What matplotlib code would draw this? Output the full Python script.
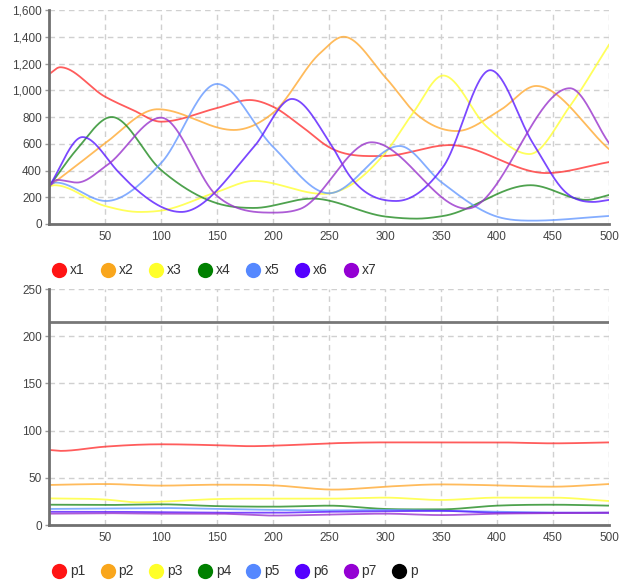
import numpy as np
import matplotlib
matplotlib.use("Agg")
import matplotlib.pyplot as plt
from matplotlib.lines import Line2D
from matplotlib.ticker import FuncFormatter

plt.rcParams['font.family'] = ['Liberation Sans', 'DejaVu Sans']

# ---------------- data (key points) ----------------
x1_x = [0, 10, 50, 75, 100, 150, 179, 200, 224, 251, 298, 358, 444, 500]
x1_y = [1120, 1172, 952, 852, 765, 867, 927, 877, 740, 570, 508, 590, 381, 463]

x2_x = [0, 25, 50, 97, 165, 200, 242, 263, 301, 329, 364, 403, 435, 500]
x2_y = [280, 440, 603, 858, 703, 830, 1277, 1400, 1090, 815, 695, 852, 1032, 560]

x3_x = [0, 5, 50, 81, 100, 150, 183, 245, 301, 325, 352, 391, 429, 465, 500]
x3_y = [280, 290, 135, 90, 100, 240, 322, 225, 540, 830, 1110, 725, 523, 880, 1340]

x4_x = [0, 25, 56, 100, 150, 183, 235, 301, 328, 352, 430, 480, 500]
x4_y = [280, 560, 800, 404, 155, 120, 190, 55, 40, 60, 290, 180, 217]

x5_x = [0, 6, 51, 100, 150, 200, 250, 313, 350, 400, 432, 500]
x5_y = [290, 310, 172, 455, 1047, 577, 230, 583, 315, 55, 25, 60]

x6_x = [0, 30, 63, 75, 118, 183, 217, 251, 269, 310, 352, 394, 432, 462, 486, 500]
x6_y = [280, 650, 380, 280, 90, 577, 935, 605, 353, 172, 428, 1150, 605, 232, 165, 180]

x7_x = [0, 7, 25, 52, 100, 150, 200, 224, 288, 373, 465, 500]
x7_y = [280, 330, 310, 441, 795, 210, 85, 112, 611, 115, 1015, 605]

p_x = [0, 50, 100, 150, 200, 250, 300, 350, 400, 450, 500]
p1_x = [0, 10, 50, 100, 150, 180, 200, 250, 300, 350, 400, 450, 500]
p1_y = [79.5, 78.5, 83, 85.5, 84.5, 83.5, 84, 86.5, 87.5, 87.5, 87.5, 86.5, 87.5]
p2_x = [0, 50, 100, 150, 200, 255, 300, 350, 400, 450, 500]
p2_y = [42.4, 43.4, 41.7, 42.7, 42, 37.5, 40.6, 43, 42, 40.6, 43.4]
p3_x = [0, 50, 80, 100, 150, 200, 250, 300, 350, 400, 450, 500]
p3_y = [28.2, 27, 24, 24.7, 27.5, 27.9, 27.9, 29, 26.5, 29, 29, 25.4]
p4_y = [21.5, 21.2, 21.9, 20, 19.4, 20.5, 17, 16.6, 20.5, 21.5, 20.5]
p5_y = [17, 17.5, 18, 17, 16, 15.5, 16, 15, 14, 13, 13]
p6_y = [14, 14, 13.5, 13, 13, 14, 14.5, 15, 13, 13, 13]
p7_y = [12, 12.5, 12, 12, 10, 11, 12, 10.5, 12, 12.5, 13]
p_y = [215, 215, 215, 215, 215, 215, 215, 215, 215, 215, 215]

top_labels = ['x1', 'x2', 'x3', 'x4', 'x5', 'x6', 'x7']
bot_labels = ['p1', 'p2', 'p3', 'p4', 'p5', 'p6', 'p7', 'p']
colors = ['#ff1414', '#f9a61c', '#ffff2a', '#008000', '#5588ff', '#5500ff', '#9400d3', '#000000']
line_colors = ['#ff3333', '#ffaa33', '#ffff33', '#228b22', '#6699ff', '#5a1aff', '#9933cc', '#555555']

x_ticks = [50, 100, 150, 200, 250, 300, 350, 400, 450, 500]
top_yticks = [0, 200, 400, 600, 800, 1000, 1200, 1400, 1600]
bot_yticks = [0, 50, 100, 150, 200, 250]


def smooth(x, y, xs):
    """Cubic Hermite through the points, central-difference tangents,
    flat tangents at local extrema (display smoothing only)."""
    x = np.asarray(x, float)
    y = np.asarray(y, float)
    h = np.diff(x)
    d = np.diff(y) / h
    n = len(x)
    m = np.zeros(n)
    for k in range(1, n - 1):
        if d[k - 1] * d[k] > 0:
            m[k] = (h[k] * d[k - 1] + h[k - 1] * d[k]) / (h[k - 1] + h[k])
    m[0] = d[0]
    m[-1] = d[-1]
    idx = np.clip(np.searchsorted(x, xs) - 1, 0, n - 2)
    t = (xs - x[idx]) / h[idx]
    h00 = 2 * t**3 - 3 * t**2 + 1
    h10 = t**3 - 2 * t**2 + t
    h01 = -2 * t**3 + 3 * t**2
    h11 = t**3 - t**2
    return h00 * y[idx] + h10 * h[idx] * m[idx] + h01 * y[idx + 1] + h11 * h[idx] * m[idx + 1]


W, H = 628, 583
fig = plt.figure(figsize=(W / 100, H / 100), dpi=100)

def px_axes(l, t, r, b):
    return fig.add_axes([l / W, 1 - b / H, (r - l) / W, (b - t) / H])

ax1 = px_axes(49, 10, 609, 224)
ax2 = px_axes(49, 289, 609, 525)

xs = np.linspace(0, 500, 1001)

top_series = [(x1_x, x1_y), (x2_x, x2_y), (x3_x, x3_y), (x4_x, x4_y),
              (x5_x, x5_y), (x6_x, x6_y), (x7_x, x7_y)]
for i, (sx, sy) in enumerate(top_series):
    ax1.plot(xs, smooth(sx, sy, xs), color=line_colors[i], lw=1.3, alpha=0.8, zorder=3)

bot_series = [(p1_x, p1_y), (p2_x, p2_y), (p3_x, p3_y), (p_x, p4_y), (p_x, p5_y),
              (p_x, p6_y), (p_x, p7_y), (p_x, p_y)]
for i, (sx, sy) in enumerate(bot_series):
    lw = 2.0 if i == 7 else 1.3
    ax2.plot(xs, smooth(sx, sy, xs), color=line_colors[i], lw=lw, alpha=0.8, zorder=3)

for ax, yt in ((ax1, top_yticks), (ax2, bot_yticks)):
    ax.set_xlim(0, 500)
    ax.set_ylim(yt[0], yt[-1])
    ax.set_xticks(x_ticks)
    ax.set_yticks(yt)
    ax.grid(True, color='#d0d0d0', linestyle=(0, (4, 3)), lw=1.0, zorder=0)
    for s in ('top', 'right'):
        ax.spines[s].set_visible(False)
    for s in ('left', 'bottom'):
        ax.spines[s].set_color('#707070')
        ax.spines[s].set_linewidth(2.0)
        ax.spines[s].set_zorder(4)
    ax.tick_params(axis='both', length=3, width=1, color='#999999', labelsize=8.5,
                   labelcolor='#444444', pad=2)
    ax.tick_params(axis='x', length=0, pad=5)
    ax.set_axisbelow(True)

ax1.yaxis.set_major_formatter(FuncFormatter(lambda v, p: f"{int(v):,}"))


def legend(labels, y_px):
    for i, lab in enumerate(labels):
        cx = 59 + i * 48.6
        fig.add_artist(Line2D([cx / W], [1 - y_px / H], marker='o', ms=11, mew=0,
                              color=colors[i], linestyle='none', transform=fig.transFigure))
        fig.text((cx + 11) / W, 1 - y_px / H, lab, ha='left', va='center',
                 fontsize=10, color='#333333')

legend(top_labels, 269.5)
legend(bot_labels, 570.5)

fig.savefig('out.png', dpi=100)
